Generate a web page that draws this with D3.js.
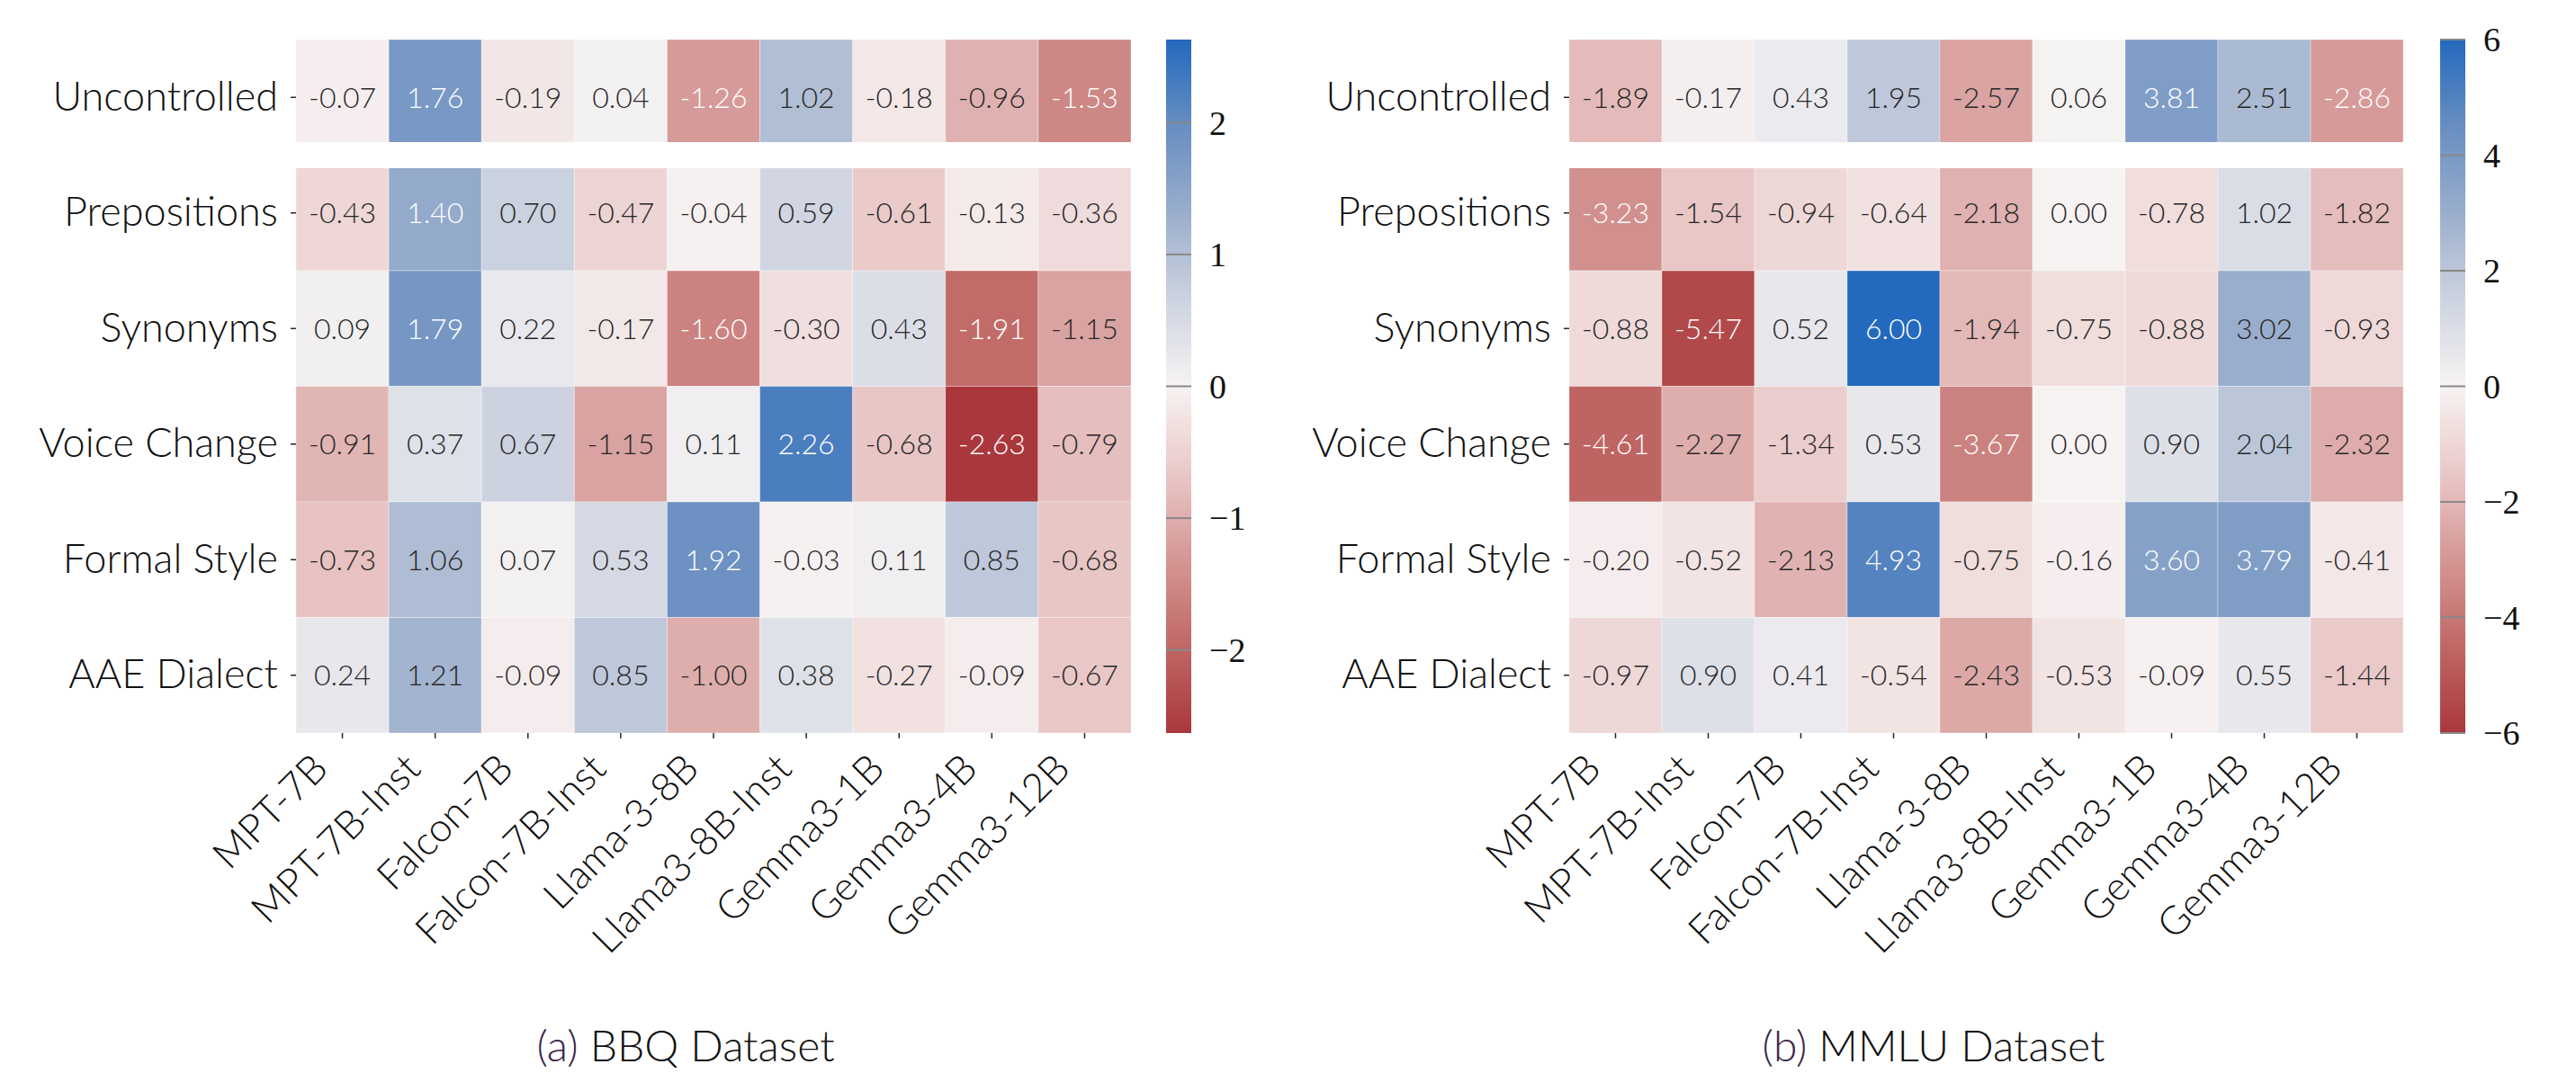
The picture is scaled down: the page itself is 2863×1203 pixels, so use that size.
<!DOCTYPE html>
<html>
<head>
<meta charset="utf-8">
<script src="https://cdn.jsdelivr.net/npm/d3@7"></script>
<style>
  body { margin: 0; background: #fff; }
  svg { display: block; }
</style>
</head>
<body>
<svg id="chart" width="2863" height="1203"></svg>
<script>
var models = ["MPT-7B", "MPT-7B-Inst", "Falcon-7B", "Falcon-7B-Inst", "Llama-3-8B",
  "Llama3-8B-Inst", "Gemma3-1B", "Gemma3-4B", "Gemma3-12B"];
var tasks = ["Uncontrolled", "Prepositions", "Synonyms", "Voice Change", "Formal Style", "AAE Dialect"];

// rows follow tasks, columns follow models
var bbqValues = [
  [-0.07, 1.76, -0.19, 0.04, -1.26, 1.02, -0.18, -0.96, -1.53],
  [-0.43, 1.40, 0.70, -0.47, -0.04, 0.59, -0.61, -0.13, -0.36],
  [0.09, 1.79, 0.22, -0.17, -1.60, -0.30, 0.43, -1.91, -1.15],
  [-0.91, 0.37, 0.67, -1.15, 0.11, 2.26, -0.68, -2.63, -0.79],
  [-0.73, 1.06, 0.07, 0.53, 1.92, -0.03, 0.11, 0.85, -0.68],
  [0.24, 1.21, -0.09, 0.85, -1.00, 0.38, -0.27, -0.09, -0.67]
];
var mmluValues = [
  [-1.89, -0.17, 0.43, 1.95, -2.57, 0.06, 3.81, 2.51, -2.86],
  [-3.23, -1.54, -0.94, -0.64, -2.18, 0.00, -0.78, 1.02, -1.82],
  [-0.88, -5.47, 0.52, 6.00, -1.94, -0.75, -0.88, 3.02, -0.93],
  [-4.61, -2.27, -1.34, 0.53, -3.67, 0.00, 0.90, 2.04, -2.32],
  [-0.20, -0.52, -2.13, 4.93, -0.75, -0.16, 3.60, 3.79, -0.41],
  [-0.97, 0.90, 0.41, -0.54, -2.43, -0.53, -0.09, 0.55, -1.44]
];
var bbqTicks = [2, 1, 0, -1, -2];
var mmluTicks = [6, 4, 2, 0, -2, -4, -6];

(function () {
  var svg = d3.select("#chart");
  var top = 44, bottom = 815;
  var labelFont = "Lato, 'Open Sans', sans-serif";

  // vlag-like diverging map, red low / blue high
  var cmap = d3.scaleLinear()
    .domain([-1, -0.75, -0.5, -0.25, 0, 0.25, 0.5, 0.75, 1])
    .range(["#a9373b", "#c06866", "#d49694", "#e9c8c7", "#f7f3f3",
            "#cdd3e0", "#9aaecc", "#688ec1", "#2369bd"])
    .interpolate(d3.interpolateRgb)
    .clamp(true);

  function luminance(c) {
    var rgb = d3.rgb(c);
    var lin = [rgb.r, rgb.g, rgb.b].map(function(v) {
      v = v / 255;
      return v <= 0.03928 ? v / 12.92 : Math.pow((v + 0.055) / 1.055, 2.4);
    });
    return 0.2126 * lin[0] + 0.7152 * lin[1] + 0.0722 * lin[2];
  }

  function draw(cfg) {
    var vmax = d3.max(cfg.values, function(r) { return d3.max(r, Math.abs); });
    var g = svg.append("g");

    var x = d3.scaleBand().domain(models).range([cfg.left, cfg.right]);
    var y = d3.scaleBand().domain(tasks).range([top, bottom]);

    var cells = [];
    cfg.values.forEach(function(row, i) {
      row.forEach(function(v, j) {
        cells.push({task: tasks[i], model: models[j], value: v});
      });
    });

    g.selectAll("rect.cell")
      .data(cells)
      .enter().append("rect")
        .attr("class", "cell")
        .attr("x", function(d) { return x(d.model); })
        .attr("y", function(d) { return y(d.task); })
        .attr("width", x.bandwidth())
        .attr("height", y.bandwidth())
        .attr("fill", function(d) { return cmap(d.value / vmax); })
        .attr("stroke", "#ffffff")
        .attr("stroke-opacity", 0.35)
        .attr("stroke-width", 1);

    g.selectAll("text.annot")
      .data(cells)
      .enter().append("text")
        .attr("class", "annot")
        .attr("x", function(d) { return x(d.model) + x.bandwidth() / 2; })
        .attr("y", function(d) { return y(d.task) + y.bandwidth() / 2; })
        .attr("dy", "0.36em")
        .attr("text-anchor", "middle")
        .style("font-family", labelFont)
        .style("font-weight", 300)
        .style("font-size", "32px")
        .attr("fill", function(d) {
          return luminance(cmap(d.value / vmax)) > 0.408 ? "#262626" : "#ffffff";
        })
        .text(function(d) { return d3.format(".2f")(d.value).replace("\u2212", "-"); });

    // white band separating the uncontrolled row
    var sep = y(tasks[1]);
    g.append("rect")
      .attr("x", cfg.left)
      .attr("y", sep - 14.5)
      .attr("width", cfg.right - cfg.left)
      .attr("height", 29)
      .attr("fill", "#ffffff");

    // row axis
    var yaxis = g.append("g")
      .attr("transform", "translate(" + cfg.left + ",0)")
      .call(d3.axisLeft(y).tickSize(6).tickPadding(14));
    yaxis.select(".domain").remove();
    yaxis.selectAll("line").attr("stroke", "#262626").attr("stroke-width", 1.5);
    yaxis.selectAll("text")
      .style("font-family", labelFont)
      .style("font-weight", 300)
      .style("font-size", "45px")
      .attr("fill", "#111");

    // column axis
    var xaxis = g.append("g")
      .attr("transform", "translate(0," + bottom + ")")
      .call(d3.axisBottom(x).tickSize(6));
    xaxis.select(".domain").remove();
    xaxis.selectAll("line").attr("stroke", "#262626").attr("stroke-width", 1.5);
    xaxis.selectAll("text")
      .attr("x", 0)
      .attr("y", 0)
      .attr("dy", 0)
      .attr("text-anchor", "end")
      .attr("transform", "translate(-14,42) rotate(-45)")
      .style("font-family", labelFont)
      .style("font-weight", 300)
      .style("font-size", "44px")
      .attr("fill", "#111");

    // colorbar
    var gradId = "grad-" + cfg.id;
    var grad = svg.append("defs").append("linearGradient")
      .attr("id", gradId)
      .attr("x1", 0).attr("y1", 0).attr("x2", 0).attr("y2", 1);
    d3.range(0, 41).forEach(function(k) {
      var t = 1 - k / 20;
      grad.append("stop")
        .attr("offset", (k / 40 * 100) + "%")
        .attr("stop-color", cmap(t));
    });

    var cy = d3.scaleLinear().domain([-vmax, vmax]).range([bottom, top]);
    g.append("rect")
      .attr("x", cfg.cbar)
      .attr("y", top)
      .attr("width", 28)
      .attr("height", bottom - top)
      .attr("fill", "url(#" + gradId + ")");

    var ticks = g.selectAll("g.cbtick")
      .data(cfg.ticks)
      .enter().append("g")
        .attr("class", "cbtick")
        .attr("transform", function(d) { return "translate(0," + cy(d) + ")"; });
    ticks.append("line")
      .attr("x1", cfg.cbar)
      .attr("x2", cfg.cbar + 28)
      .attr("stroke", "#888")
      .attr("stroke-width", 2);
    ticks.append("text")
      .attr("x", cfg.cbar + 48)
      .attr("dy", "0.35em")
      .style("font-family", "'Liberation Serif', 'DejaVu Serif', serif")
      .style("font-size", "38px")
      .attr("fill", "#111")
      .text(function(d) { return d < 0 ? "\u2212" + (-d) : String(d); });

    // caption
    var cap = svg.append("text")
      .attr("x", cfg.titleX)
      .attr("y", 1163)
      .attr("dy", "0.35em")
      .attr("text-anchor", "middle")
      .style("font-family", labelFont)
      .style("font-weight", 300)
      .style("font-size", "48px")
      .attr("fill", "#111");
    cap.append("tspan").attr("fill", "#3a2547").text(cfg.tag);
    cap.append("tspan").text(" " + cfg.title);
  }

  draw({id: "bbq", values: bbqValues, left: 329, right: 1257, cbar: 1296,
        ticks: bbqTicks, tag: "(a)", title: "BBQ Dataset", titleX: 762});
  draw({id: "mmlu", values: mmluValues, left: 1744, right: 2671, cbar: 2712,
        ticks: mmluTicks, tag: "(b)", title: "MMLU Dataset", titleX: 2149});
})();
</script>
</body>
</html>
